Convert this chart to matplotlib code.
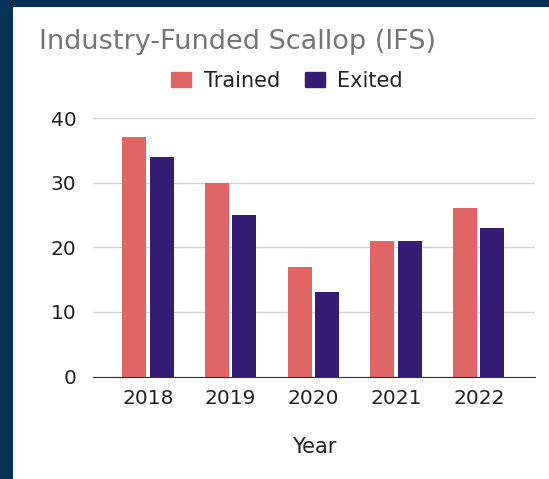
import numpy as np
import matplotlib.pyplot as plt
from matplotlib.patches import Rectangle, Patch

plt.rcParams['font.family'] = ['DejaVu Sans']

years = ['2018', '2019', '2020', '2021', '2022']
trained = [37, 30, 17, 21, 26]
exited = [34, 25, 13, 21, 23]

trained_color = '#e06666'
exited_color = '#351c75'
navy = '#06325a'

W, H = 549, 479
fig = plt.figure(figsize=(W / 100, H / 100), dpi=100, facecolor='white')

# navy border on top and left edges
fig.patches.append(Rectangle((0, 0), 13 / W, 1, transform=fig.transFigure,
                             facecolor=navy, edgecolor='none', zorder=-10))
fig.patches.append(Rectangle((0, (H - 7) / H), 1, 7 / H, transform=fig.transFigure,
                             facecolor=navy, edgecolor='none', zorder=-10))

ax = fig.add_axes([93 / W, (H - 376.5) / H, (535 - 93) / W, (376.5 - 118) / H])
ax.set_facecolor('none')

x = np.arange(len(years))
w = 0.29
off = 0.165
ax.bar(x - off, trained, w, color=trained_color, zorder=3)
ax.bar(x + off, exited, w, color=exited_color, zorder=3)

ax.set_xlim(-0.665, 4.68)
ax.set_ylim(0, 40)
ax.set_yticks([0, 10, 20, 30, 40])
ax.set_xticks(x)
ax.set_xticklabels(years)
ax.tick_params(axis='both', length=0, labelsize=14.5, colors='#222222')
ax.tick_params(axis='y', pad=12)
ax.tick_params(axis='x', pad=9)
ax.grid(axis='y', color='#d4d4d4', linewidth=1, zorder=0)
for s in ['top', 'right', 'left']:
    ax.spines[s].set_visible(False)
ax.spines['bottom'].set_color('#333333')
ax.spines['bottom'].set_zorder(4)

fig.text(39 / W, 1 - 42 / H, 'Industry-Funded Scallop (IFS)', fontsize=19.5,
         color='#757575', ha='left', va='center')

handles = [Patch(color=trained_color, label='Trained'),
           Patch(color=exited_color, label='Exited')]
fig.legend(handles=handles, loc='center', bbox_to_anchor=(287 / W, 1 - 81 / H),
           ncol=2, frameon=False, fontsize=15, handlelength=0.95, handleheight=0.7,
           handletextpad=0.6, columnspacing=1.2, labelcolor='#222222')

fig.text(314 / W, 1 - 447 / H, 'Year', fontsize=15, color='#222222',
         ha='center', va='center')

fig.savefig('out.png', dpi=100, facecolor='white')
